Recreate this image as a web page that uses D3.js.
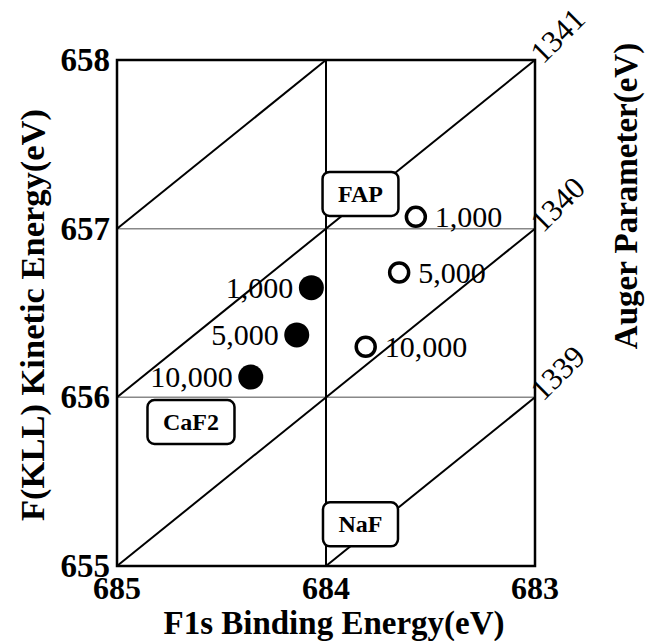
<!DOCTYPE html>
<html>
<head>
<meta charset="utf-8">
<script src="https://cdnjs.cloudflare.com/ajax/libs/d3/7.8.5/d3.min.js"></script>
<style>
    body { margin: 0; background: #fff; }
    text { font-family: "Liberation Serif", "Times New Roman", serif; fill: #000; }
</style>
</head>
<body>
<div id="chart"></div>
<script>
// x: F1s binding energy (eV), y: F(KLL) kinetic energy (eV)
var xTicks = [685, 684, 683];
var yTicks = [655, 656, 657, 658];
var augerLines = [1339, 1340, 1341, 1342];
var augerLabels = [1339, 1340, 1341];

var filledLabels = ["1,000", "5,000", "10,000"];
var filledBE = [684.07, 684.14, 684.36];
var filledKE = [656.65, 656.37, 656.12];

var openLabels = ["1,000", "5,000", "10,000"];
var openBE = [683.57, 683.65, 683.81];
var openKE = [657.07, 656.74, 656.30];

var compounds = ["FAP", "CaF2", "NaF"];
var compoundBE = [683.835, 684.646, 683.835];
var compoundKE = [657.206, 655.854, 655.247];

var width = 654;
var height = 641;
var margin = {top: 60, right: 119, bottom: 75, left: 117};

var svg = d3.select("#chart")
    .append("svg")
    .attr("width", width)
    .attr("height", height);

var x = d3.scaleLinear().domain([685, 683]).range([margin.left, width - margin.right]);
var y = d3.scaleLinear().domain([655, 658]).range([height - margin.bottom, margin.top]);

// grid lines
svg.selectAll(".hgrid")
    .data([656, 657])
    .enter().append("line")
    .attr("class", "hgrid")
    .attr("x1", x(685)).attr("x2", x(683))
    .attr("y1", function(d){ return y(d) })
    .attr("y2", function(d){ return y(d) })
    .attr("stroke", "#888")
    .attr("stroke-width", 1.5);

svg.append("line")
    .attr("x1", x(684)).attr("x2", x(684))
    .attr("y1", y(655)).attr("y2", y(658))
    .attr("stroke", "#000")
    .attr("stroke-width", 2);

// constant auger parameter lines: KE = alpha - BE
svg.selectAll(".auger")
    .data(augerLines)
    .enter().append("line")
    .attr("class", "auger")
    .attr("x1", function(d){ return x(Math.max(683, d - 658)) })
    .attr("y1", function(d){ return y(d - Math.max(683, d - 658)) })
    .attr("x2", function(d){ return x(Math.min(685, d - 655)) })
    .attr("y2", function(d){ return y(d - Math.min(685, d - 655)) })
    .attr("stroke", "#000")
    .attr("stroke-width", 2);

// frame
svg.append("rect")
    .attr("x", x(685))
    .attr("y", y(658))
    .attr("width", x(683) - x(685))
    .attr("height", y(655) - y(658))
    .attr("fill", "none")
    .attr("stroke", "#000")
    .attr("stroke-width", 2.5);

// tick labels
svg.selectAll(".xtick")
    .data(xTicks)
    .enter().append("text")
    .attr("class", "xtick")
    .attr("x", function(d){ return x(d) })
    .attr("y", y(655) + 33)
    .attr("text-anchor", "middle")
    .style("font-size", "32px")
    .style("font-weight", "bold")
    .text(function(d){ return d });

svg.selectAll(".ytick")
    .data(yTicks)
    .enter().append("text")
    .attr("class", "ytick")
    .attr("x", x(685) - 7)
    .attr("y", function(d){ return y(d) + 11 })
    .attr("text-anchor", "end")
    .style("font-size", "33px")
    .style("font-weight", "bold")
    .text(function(d){ return d });

svg.selectAll(".alabel")
    .data(augerLabels)
    .enter().append("text")
    .attr("class", "alabel")
    .attr("transform", function(d){
        return "translate(" + (x(683) + 8) + "," + (y(d - 683) + 5) + ") rotate(-45)";
    })
    .style("font-size", "31px")
    .text(function(d){ return d });

// axis titles
svg.append("text")
    .attr("x", 334)
    .attr("y", 634)
    .attr("text-anchor", "middle")
    .style("font-size", "33px")
    .style("font-weight", "bold")
    .text("F1s Binding Energy(eV)");

svg.append("text")
    .attr("transform", "translate(44,315) rotate(-90)")
    .attr("text-anchor", "middle")
    .style("font-size", "34.5px")
    .style("font-weight", "bold")
    .text("F(KLL) Kinetic Energy(eV)");

svg.append("text")
    .attr("transform", "translate(637,196) rotate(-90)")
    .attr("text-anchor", "middle")
    .style("font-size", "33px")
    .style("font-weight", "bold")
    .text("Auger Parameter(eV)");

// compound boxes
var boxes = svg.selectAll(".compound")
    .data(compounds)
    .enter().append("g")
    .attr("class", "compound")
    .attr("transform", function(d, i){
        return "translate(" + x(compoundBE[i]) + "," + y(compoundKE[i]) + ")";
    });

boxes.append("rect");
boxes.append("text")
    .attr("text-anchor", "middle")
    .attr("y", 8)
    .style("font-size", "24px")
    .style("font-weight", "bold")
    .text(function(d){ return d });

boxes.each(function(){
    var g = d3.select(this);
    var w = g.select("text").node().getComputedTextLength() + 31;
    g.select("rect")
        .attr("x", -w / 2)
        .attr("y", -22)
        .attr("width", w)
        .attr("height", 44)
        .attr("rx", 7)
        .attr("fill", "#fff")
        .attr("stroke", "#000")
        .attr("stroke-width", 2.5);
});

// filled points, labels on the left
svg.selectAll(".filled")
    .data(filledLabels)
    .enter().append("circle")
    .attr("class", "filled")
    .attr("cx", function(d, i){ return x(filledBE[i]) })
    .attr("cy", function(d, i){ return y(filledKE[i]) })
    .attr("r", 12.5)
    .attr("fill", "#000");

svg.selectAll(".flabel")
    .data(filledLabels)
    .enter().append("text")
    .attr("class", "flabel")
    .attr("x", function(d, i){ return x(filledBE[i]) - 18 })
    .attr("y", function(d, i){ return y(filledKE[i]) + 10 })
    .attr("text-anchor", "end")
    .style("font-size", "30px")
    .text(function(d){ return d });

// open points, labels on the right
svg.selectAll(".open")
    .data(openLabels)
    .enter().append("circle")
    .attr("class", "open")
    .attr("cx", function(d, i){ return x(openBE[i]) })
    .attr("cy", function(d, i){ return y(openKE[i]) })
    .attr("r", 9.5)
    .attr("fill", "none")
    .attr("stroke", "#000")
    .attr("stroke-width", 3.5);

svg.selectAll(".olabel")
    .data(openLabels)
    .enter().append("text")
    .attr("class", "olabel")
    .attr("x", function(d, i){ return x(openBE[i]) + 19 })
    .attr("y", function(d, i){ return y(openKE[i]) + 10 })
    .style("font-size", "30px")
    .text(function(d){ return d });
</script>
</body>
</html>
